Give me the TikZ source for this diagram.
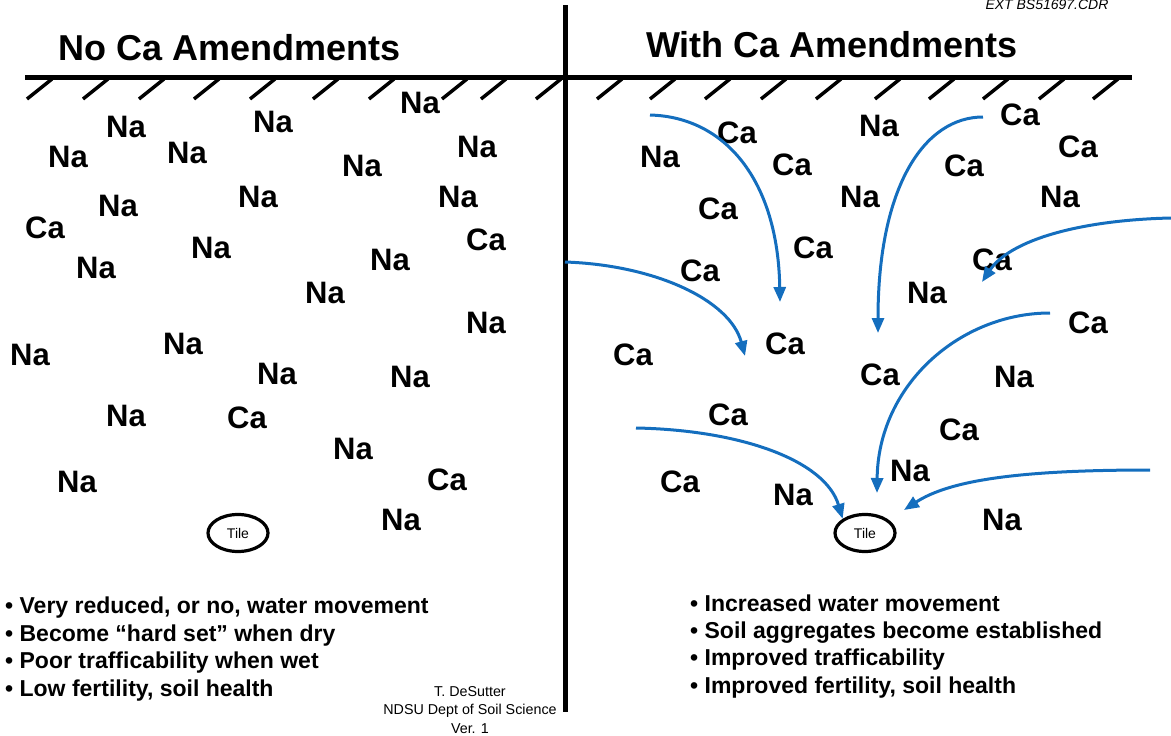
\documentclass[tikz,border=0pt]{standalone}
\usepackage{fontspec}
\setmainfont{Liberation Sans}
\usetikzlibrary{arrows.meta,shapes.geometric}
\definecolor{flow}{RGB}{20,110,190}
\begin{document}
\begin{tikzpicture}[x=1pt,y=-1pt,
  ion/.style={font=\fontsize{31}{31}\selectfont\bfseries, inner sep=0pt},
  ttl/.style={font=\fontsize{36}{36}\selectfont\bfseries, inner sep=0pt},
  bul/.style={font=\fontsize{23}{23}\selectfont\bfseries, anchor=base west, inner sep=0pt},
  tile/.style={draw, line width=3.2pt, ellipse, minimum width=60pt, minimum height=37pt, inner sep=0pt, font=\fontsize{14}{14}\selectfont},
  flowarrow/.style={draw=flow, line width=3pt, -{Triangle[length=15pt,width=12pt]}},
  hatch/.style={line width=3.5pt},
  ground/.style={line width=5pt}]
\useasboundingbox (0,0) rectangle (1171,736);
% ground lines
\coordinate (gl0) at (25,77);
\coordinate (gl1) at (1132,77);
\coordinate (v0) at (565,5);
\coordinate (v1) at (565,712);
\draw[ground] (gl0) -- (gl1);
\draw[ground] (v0) -- (v1);
\foreach \x in {27,83,139,194,250,313,369,442,481,536,597,650,705,761,816,875,929,983,1039,1093}
  \draw[hatch] (\x,99) -- ++(25,-20);
% titles
\node[ttl] (t1) at (230,48) {No Ca Amendments};
\node[ttl] (t2) at (832,45) {With Ca Amendments};
\node[font=\fontsize{14}{14}\selectfont\itshape, inner sep=0pt] (ext) at (1047,5) {EXT BS51697.CDR};
% left ions
\foreach \t/\x/\y [count=\i] in {Na/126/127, Na/273/122, Na/420/103, Na/68/157, Na/187/153, Na/362/166, Na/477/147, Na/118/206, Na/258/197, Na/458/197, Ca/45/228, Ca/486/240, Na/96/268, Na/211/248, Na/390/260, Na/325/293, Na/486/323, Na/30/355, Na/183/344, Na/277/374, Na/410/377, Na/126/416, Ca/247/418, Na/353/449, Na/77/482, Ca/447/480, Na/401/520}
  \node[ion] (L\i) at (\x,\y) {\t};
% right ions
\foreach \t/\x/\y [count=\i] in {Na/660/157, Ca/737/133, Ca/792/165, Na/879/126, Ca/1020/115, Ca/1078/147, Ca/964/166, Na/860/197, Na/1060/197, Ca/718/209, Ca/813/248, Ca/992/260, Ca/700/271, Na/927/293, Ca/1088/323, Ca/633/355, Ca/785/344, Ca/880/375, Na/1014/377, Ca/728/415, Ca/959/430, Na/910/471, Ca/680/482, Na/793/495, Na/1002/520}
  \node[ion] (R\i) at (\x,\y) {\t};
% tiles
\node[tile] (tileL) at (238,533) {Tile};
\node[tile] (tileR) at (865,533) {Tile};
% arrows
\coordinate (a1s) at (650,115); \coordinate (a1e) at (780,302);
\coordinate (a2s) at (983,117); \coordinate (a2e) at (878,333);
\coordinate (a3s) at (1171,218); \coordinate (a3e) at (982,282);
\coordinate (a4s) at (565,262); \coordinate (a4e) at (745,356);
\coordinate (a5s) at (1050,313); \coordinate (a5e) at (877,493);
\coordinate (a6s) at (636,428);
\coordinate (a7s) at (1150,470); \coordinate (a7e) at (904,510);
\draw[flowarrow] (a1s) .. controls (725,117) and (778,180) .. (a1e);
\draw[flowarrow] (a2s) .. controls (925,117) and (878,185) .. (a2e);
\draw[flowarrow] (a3s) .. controls (1080,220) and (1010,240) .. (a3e);
\draw[flowarrow] (a4s) .. controls (655,265) and (730,300) .. (a4e);
\draw[flowarrow] (a5s) .. controls (960,313) and (878,385) .. (a5e);
\draw[flowarrow] (a6s) .. controls (740,430) and (825,460) .. (tileR.north west);
\draw[flowarrow] (a7s) .. controls (1020,470) and (950,480) .. (a7e);
% bullets
\node[bul] (b1) at (5,613) {• Very reduced, or no, water movement};
\node[bul] (b2) at (5,641) {• Become “hard set” when dry};
\node[bul] (b3) at (5,668) {• Poor trafficability when wet};
\node[bul] (b4) at (5,696) {• Low fertility, soil health};
\node[bul] (b5) at (690,611) {• Increased water movement};
\node[bul] (b6) at (690,638) {• Soil aggregates become established};
\node[bul] (b7) at (690,665) {• Improved trafficability};
\node[bul] (b8) at (690,693) {• Improved fertility, soil health};
% credits
\node[font=\fontsize{14.3}{18.5}\selectfont, align=center, inner sep=0pt] (cred) at (470,710) {T. DeSutter\\NDSU Dept of Soil Science\\Ver. 1};
\end{tikzpicture}
\end{document}
